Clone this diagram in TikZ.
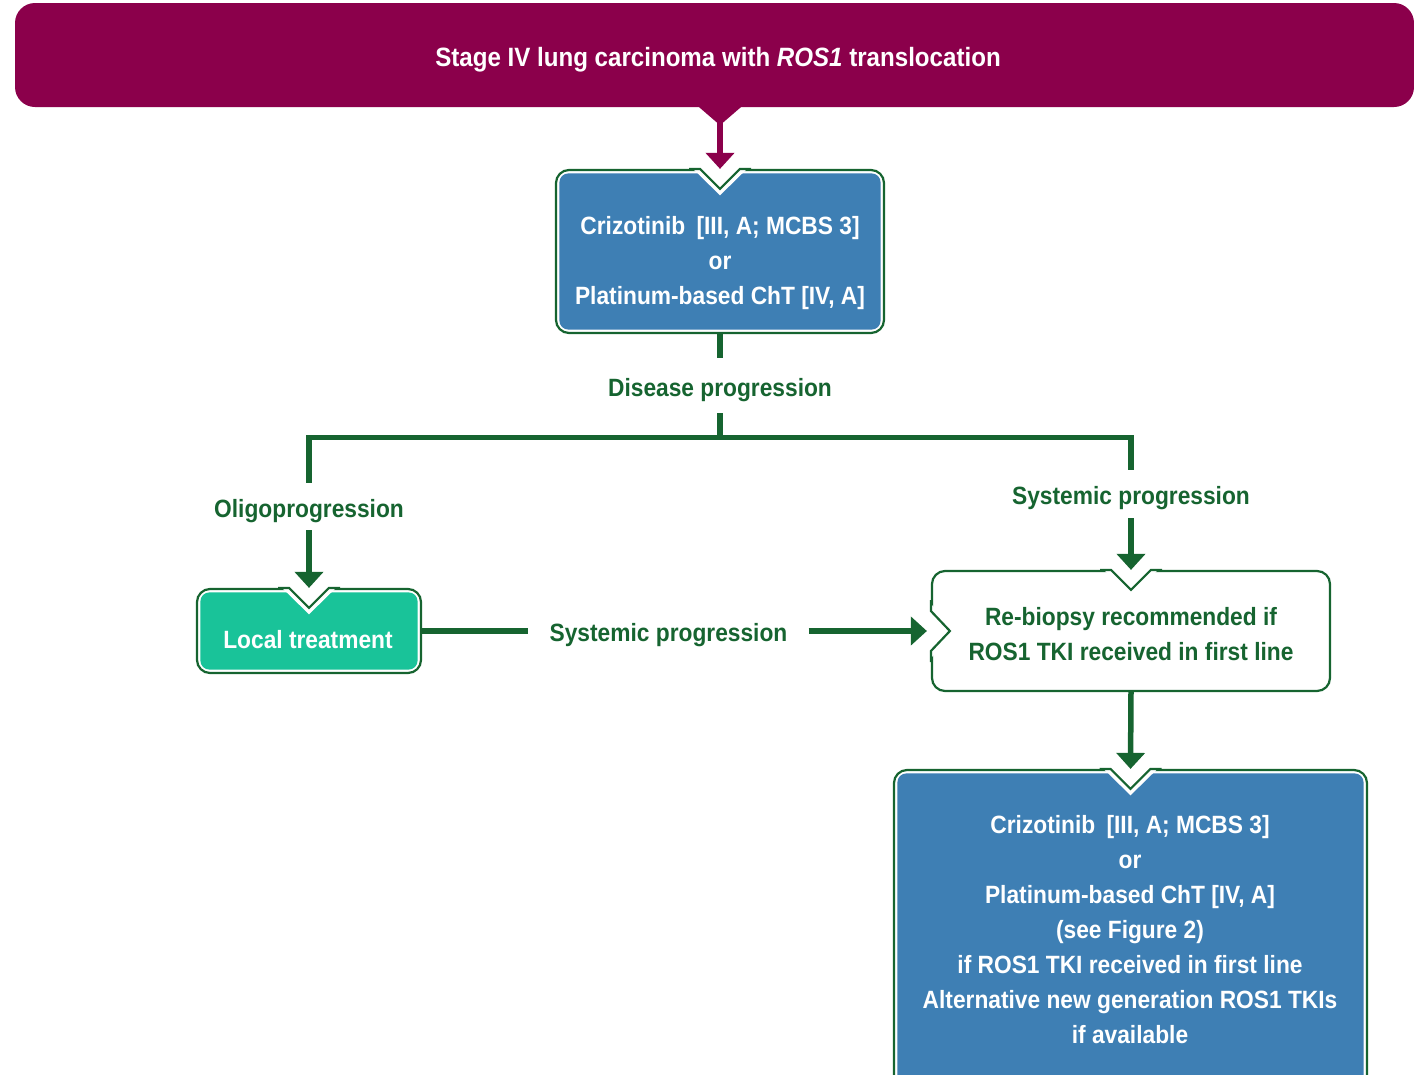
\documentclass[tikz,border=0pt]{standalone}
\usepackage{fontspec}
\setmainfont{Liberation Sans}[FakeStretch=0.91]
\usetikzlibrary{arrows.meta,calc}

\definecolor{bannerred}{RGB}{139,0,75}
\definecolor{dkgreen}{RGB}{22,100,48}
\definecolor{boxblue}{RGB}{62,127,180}
\definecolor{tealfill}{RGB}{25,195,153}

\tikzset{
  x=1pt, y=-1pt,
  every node/.style={font=\fontsize{25}{35}\selectfont\bfseries},
  frame/.style={draw=dkgreen, line width=2.2pt, fill=white, rounded corners=13pt, inner sep=0pt},
  boxtext/.style={align=center, text=white, inner sep=0pt},
  greentext/.style={align=center, text=dkgreen, inner sep=0pt},
  lbl/.style={text=dkgreen, inner xsep=21pt, inner ysep=0pt, text height=24pt, text depth=3pt},
  link/.style={draw=dkgreen, line width=5.5pt},
  arr/.style={link, -{Triangle[width=28pt,length=16pt]}},
  redarr/.style={draw=bannerred, line width=5.5pt, -{Triangle[width=28pt,length=16pt]}},
}

% coloured inner panel, inset from the green frame
\newcommand\innerfill[2]{%
  \fill[#2, rounded corners=9pt] ($(#1.south west)+(4.5pt,4.5pt)$) rectangle ($(#1.north east)+(-4.5pt,-4.5pt)$);}
% V-shaped notch cut into the top edge of a frame
\newcommand\topnotch[1]{%
  \fill[white] ($(#1.north)+(-30pt,3pt)$) -- ($(#1.north)+(0pt,-26.4pt)$) -- ($(#1.north)+(30pt,3pt)$) -- cycle;
  \draw[dkgreen, line width=2.2pt, line join=miter]
    ($(#1.north)+(-31pt,0pt)$) -- ($(#1.north)+(-20pt,0pt)$) -- ($(#1.north)+(0pt,-20pt)$)
    -- ($(#1.north)+(20pt,0pt)$) -- ($(#1.north)+(31pt,0pt)$);}
% V-shaped notch cut into the left edge of a frame
\newcommand\leftnotch[1]{%
  \fill[white] ($(#1.west)+(-3pt,30pt)$) -- ($(#1.west)+(26.4pt,0pt)$) -- ($(#1.west)+(-3pt,-30pt)$) -- cycle;
  \draw[dkgreen, line width=2.2pt, line join=miter]
    ($(#1.west)+(0pt,31pt)$) -- ($(#1.west)+(0pt,20pt)$) -- ($(#1.west)+(19pt,0pt)$)
    -- ($(#1.west)+(0pt,-20pt)$) -- ($(#1.west)+(0pt,-31pt)$);}

\begin{document}
\begin{tikzpicture}
\useasboundingbox (0,0) rectangle (1414,1074);
\clip (0,0) rectangle (1414,1074);

% title banner
\node[fill=bannerred, rounded corners=20pt, minimum width=1399pt, minimum height=104pt,
      inner sep=0pt, text=white, font=\fontsize{26.5}{32}\selectfont\bfseries,
      text height=23pt, text depth=0pt] (title) at (714.5,55)
  {\hspace*{7pt}Stage IV lung carcinoma with \textit{ROS1} translocation};

% boxes
\node[frame, minimum width=328pt, minimum height=163pt] (b1) at (720,251.5) {};
\node[frame, minimum width=224pt, minimum height=84pt] (lt) at (309,631) {};
\node[frame, minimum width=398pt, minimum height=120pt] (rb) at (1131,631) {};
\node[frame, minimum width=473pt, minimum height=330pt] (b2) at (1130.5,935) {};

\innerfill{b1}{boxblue}
\innerfill{lt}{tealfill}
\innerfill{b2}{boxblue}
\topnotch{b1}
\topnotch{lt}
\topnotch{rb}
\topnotch{b2}
\leftnotch{rb}

% box texts
\node[boxtext] (b1t) at (720,263)
  {Crizotinib\hspace{0.45em}[III, A; MCBS 3]\\or\\Platinum-based ChT [IV, A]};
\node[boxtext] (ltt) at (308,640) {Local treatment};
\node[greentext] (rbt) at (1131,634)
  {Re-biopsy recommended if\\ROS1 TKI received in first line};
\node[boxtext] (b2t) at (1130,930)
  {Crizotinib\hspace{0.45em}[III, A; MCBS 3]\\or\\Platinum-based ChT [IV, A]\\(see Figure 2)\\
   if ROS1 TKI received in first line\\Alternative new generation ROS1 TKIs\\if available};

% connector labels
\node[lbl, minimum height=55pt] (dp) at (720,385.5) {Disease progression};
\node[lbl, minimum height=47pt] (oligo) at (309,506.5) {Oligoprogression};
\node[lbl, minimum height=48pt] (sysr) at (1131,494) {Systemic progression};
\node[lbl, minimum height=40pt] (sysm) at (668.5,631) {Systemic progression};
\coordinate (split) at (720,437.5);

% connectors
\draw[redarr] (title.south -| b1.north) -- (b1.north);
\fill[bannerred] ($(title.south -| b1.north)+(-22pt,1pt)$) -- ($(title.south -| b1.north)+(0pt,-18pt)$)
  -- ($(title.south -| b1.north)+(22pt,1pt)$) -- cycle;
\draw[link] (b1.south) -- (dp.north);
\draw[link] (dp.south) -- (split);
\draw[link, line join=miter] (oligo.north) |- (split) -| (sysr.north);
\draw[arr] (oligo.south) -- (lt.north);
\draw[arr] (sysr.south) -- (rb.north);
\draw[link] (lt.east) -- (sysm.west);
\draw[arr, shorten >=4pt] (sysm.east) -- (rb.west);
\draw[arr] (rb.south) -- (b2.north);
\end{tikzpicture}
\end{document}
